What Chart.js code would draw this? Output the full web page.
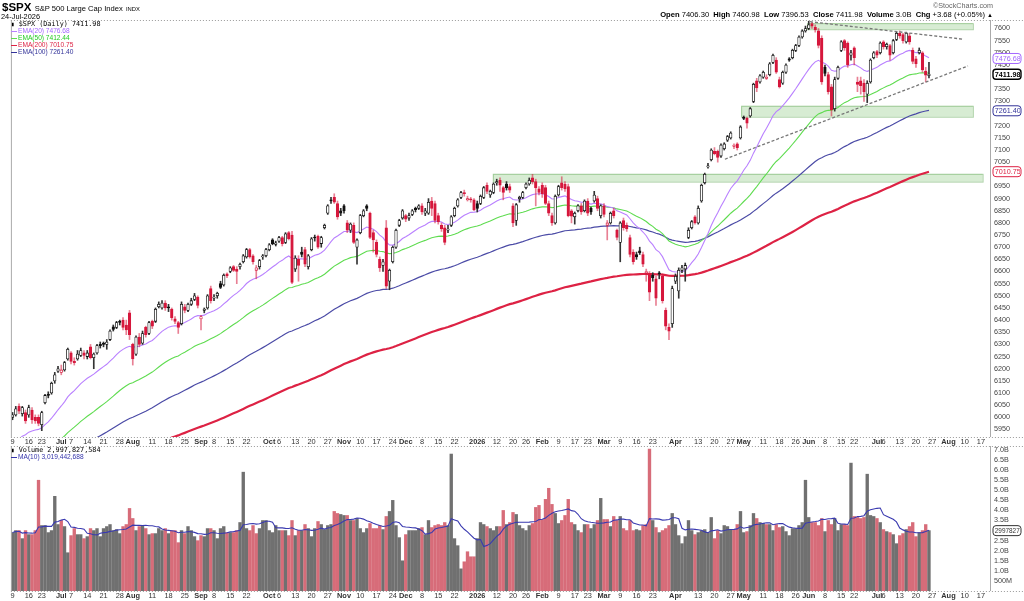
<!DOCTYPE html>
<html>
<head>
<meta charset="utf-8">
<script src="https://cdn.jsdelivr.net/npm/chart.js"></script>
<style>
body{margin:0;background:#fff;width:1024px;height:601px;overflow:hidden;position:relative;font-family:"Liberation Sans",Arial,sans-serif;color:#000}
canvas{position:absolute;left:0}
#price{top:0}
#vol{top:446px}
.t{position:absolute;white-space:nowrap;line-height:1}
.mono{font-family:"DejaVu Sans Mono",monospace}
.lg{font-size:6.6px;height:7px;line-height:7px}
.lg i{display:inline-block;width:6px;height:1.5px;vertical-align:middle;margin-right:1px}
</style>
</head>
<body>
<canvas id="price" width="1024" height="447"></canvas>
<canvas id="vol" width="1024" height="155"></canvas>

<div class="t" style="left:2px;top:2px;font-size:11.5px;height:11px;line-height:11px"><b>$SPX</b> <span style="font-size:7.6px">S&amp;P 500 Large Cap Index</span> <span style="font-size:5.8px">INDX</span></div>
<div class="t" style="left:1px;top:13px;font-size:7.4px;height:7px;line-height:7px">24-Jul-2026</div>
<div class="t" style="right:31px;top:2px;font-size:7.2px;color:#666">&copy;StockCharts.com</div>
<div class="t" style="right:31px;top:11px;font-size:7.6px"><b>Open</b> 7406.30 &nbsp;<b>High</b> 7460.98 &nbsp;<b>Low</b> 7396.53 &nbsp;<b>Close</b> 7411.98 &nbsp;<b>Volume</b> 3.0B &nbsp;<b>Chg</b> +3.68 (+0.05%) <span style="font-size:6px">&#9650;</span></div>

<div class="t" style="left:11px;top:20px">
  <div class="lg mono" style="font-size:6.8px"><b style="font-size:6px">&#9646;</b> $SPX (Daily) 7411.98</div>
  <div class="lg" style="color:#a366ff"><i style="background:#b980ff"></i>EMA(20) 7476.68</div>
  <div class="lg" style="color:#22cc22"><i style="background:#5fdc50"></i>EMA(50) 7412.44</div>
  <div class="lg" style="color:#dd2244"><i style="background:#dd2244"></i>EMA(200) 7010.75</div>
  <div class="lg" style="color:#333399"><i style="background:#333399"></i>EMA(100) 7261.40</div>
</div>
<div class="t" style="left:11px;top:446px">
  <div class="lg mono" style="font-size:6.8px"><b style="font-size:6px">&#9646;</b> Volume 2,997,827,584</div>
  <div class="lg" style="color:#3333aa"><i style="background:#3333aa"></i>MA(10) 3,019,442,688</div>
</div>

<script>
// ---- calendar ----
const firstDate = '2025-06-09';
const slotCount = 302;   // 283 trading days + empty space to the right
const holidays = ['2025-06-19','2025-07-04','2025-09-01','2025-11-27','2025-12-25',
  '2026-01-01','2026-01-19','2026-02-16','2026-04-03','2026-05-25','2026-06-19','2026-07-03'];

const tickDates = ['2025-06-09','2025-06-16','2025-06-23','2025-07-01','2025-07-07','2025-07-14','2025-07-21','2025-07-28',
  '2025-08-01','2025-08-11','2025-08-18','2025-08-25','2025-09-02','2025-09-08','2025-09-15','2025-09-22',
  '2025-10-01','2025-10-06','2025-10-13','2025-10-20','2025-10-27','2025-11-03','2025-11-10','2025-11-17','2025-11-24',
  '2025-12-01','2025-12-08','2025-12-15','2025-12-22','2026-01-02','2026-01-12','2026-01-20','2026-01-26',
  '2026-02-02','2026-02-09','2026-02-17','2026-02-23','2026-03-02','2026-03-09','2026-03-16','2026-03-23',
  '2026-04-01','2026-04-13','2026-04-20','2026-04-27','2026-05-01','2026-05-11','2026-05-18','2026-05-26',
  '2026-06-01','2026-06-08','2026-06-15','2026-06-22','2026-07-01','2026-07-06','2026-07-13','2026-07-20','2026-07-27',
  '2026-08-03','2026-08-10','2026-08-17'];
const tickText = ['9','16','23','Jul','7','14','21','28',
  'Aug','11','18','25','Sep','8','15','22',
  'Oct','6','13','20','27','Nov','10','17','24',
  'Dec','8','15','22','2026','12','20','26',
  'Feb','9','17','23','Mar','9','16','23',
  'Apr','13','20','27','May','11','18','26',
  'Jun','8','15','22','Jul','6','13','20','27',
  'Aug','10','17'];

// ---- daily prices ----
const opens = [
6000,6010,6045,6015,6020,6010,6030,6000,6000,5970, 6060,6095,6100,6150,6190,6185,6195,6240,6265,6230,
6240,6255,6265,6250,6290,6245,6265,6300,6305,6300, 6320,6372,6370,6395,6400,6380,6430,6300,6260,6330,
6305,6370,6345,6395,6395,6455,6450,6470,6455,6445, 6405,6390,6385,6455,6440,6465,6485,6495,6405,6440,
6450,6530,6490,6500,6550,6545,6590,6600,6620,6610, 6620,6640,6660,6690,6665,6605,6620,6660,6665,6690,
6730,6712,6725,6740,6720,6760,6750,6610,6650,6680, 6690,6620,6690,6740,6745,6715,6780,6840,6895,6905,
6880,6850,6870,6800,6770,6790,6700,6760,6830,6870, 6840,6760,6720,6650,6625,6780,6560,6640,6700,6790,
6820,6830,6820,6835,6860,6860,6870,6840,6840,6890, 6880,6830,6790,6780,6770,6790,6830,6870,6905,6925,
6895,6895,6895,6880,6880,6905,6955,6915,6925,6965, 6975,6945,6960,6950,6870,6810,6900,6905,6945,6960,
6985,6970,6940,6955,6945,6880,6830,6800,6915,6965, 6960,6950,6850,6825,6850,6870,6850,6890,6860,6890,
6900,6830,6870,6790,6800,6850,6770,6720,6810,6790, 6740,6680,6670,6685,6670,6595,6590,6585,6570,6590,
6580,6440,6370,6385,6560,6520,6605,6610,6740,6780, 6825,6800,6890,6965,7030,7060,7095,7095,7075,7105,
7140,7150,7115,7125,7150,7235,7230,7240,7300,7385, 7380,7400,7395,7410,7460,7470,7390,7375,7420,7475,
7480,7510,7530,7565,7590,7600,7620,7605,7590,7560, 7440,7410,7360,7270,7395,7510,7550,7540,7490,7520,
7380,7385,7375,7330,7380,7480,7505,7500,7545,7525, 7530,7500,7555,7580,7575,7545,7570,7510,7475,7500,
7500,7425,7406.30];
const highs = [
6020,6045,6055,6045,6030,6050,6040,6010,6010,6025, 6095,6105,6145,6185,6210,6215,6230,6285,6270,6245,
6275,6285,6275,6275,6300,6265,6300,6310,6310,6320, 6360,6380,6395,6400,6410,6400,6440,6305,6335,6345,
6355,6375,6395,6400,6450,6475,6480,6480,6465,6450, 6415,6395,6475,6465,6470,6490,6510,6500,6420,6450,
6505,6540,6505,6515,6560,6590,6595,6620,6625,6620, 6635,6670,6695,6695,6670,6625,6650,6670,6695,6715,
6735,6725,6745,6745,6760,6765,6765,6665,6665,6700, 6700,6670,6740,6750,6750,6745,6795,6875,6905,6920,
6890,6860,6875,6810,6800,6800,6735,6835,6855,6875, 6845,6770,6730,6660,6650,6810,6610,6705,6775,6815,
6855,6835,6840,6855,6865,6875,6880,6860,6900,6905, 6890,6840,6800,6790,6790,6830,6865,6900,6930,6935,
6910,6905,6900,6890,6915,6950,6965,6935,6965,6980, 6985,6950,6970,6960,6880,6880,6910,6930,6965,6985,
7000,6980,6950,6965,6955,6890,6840,6915,6955,6990, 6970,6960,6855,6845,6875,6880,6895,6900,6865,6930,
6910,6875,6880,6810,6845,6860,6775,6805,6820,6800, 6750,6690,6680,6700,6680,6610,6600,6595,6580,6600,
6590,6450,6385,6540,6590,6615,6625,6635,6780,6810, 6830,6870,6960,7005,7045,7105,7110,7100,7125,7130,
7160,7175,7125,7130,7200,7240,7235,7275,7375,7395, 7410,7425,7410,7460,7495,7480,7400,7425,7455,7480,
7515,7535,7570,7595,7610,7630,7625,7615,7600,7570, 7450,7420,7370,7400,7445,7550,7555,7545,7510,7525,
7400,7400,7390,7385,7475,7505,7510,7545,7550,7540, 7535,7555,7585,7590,7580,7585,7580,7520,7485,7520,
7505,7440,7460.98];
const lows = [
5990,6005,6015,6005,5975,6000,5975,5975,5965,5945, 6055,6080,6095,6140,6185,6175,6190,6235,6220,6215,
6235,6250,6240,6240,6240,6200,6260,6285,6290,6280, 6315,6355,6365,6380,6360,6340,6320,6215,6255,6290,
6300,6330,6340,6365,6390,6450,6445,6440,6435,6400, 6385,6345,6380,6430,6435,6460,6480,6450,6360,6430,
6445,6470,6480,6490,6530,6540,6575,6595,6600,6550, 6610,6635,6655,6655,6630,6570,6610,6650,6660,6685,
6710,6705,6720,6705,6715,6730,6550,6600,6560,6660, 6620,6610,6685,6725,6695,6700,6775,6835,6880,6880,
6815,6830,6840,6760,6760,6715,6630,6755,6825,6850, 6735,6680,6660,6600,6600,6530,6525,6635,6695,6785,
6815,6805,6810,6830,6845,6855,6835,6830,6835,6830, 6800,6795,6765,6710,6760,6785,6825,6865,6900,6910,
6890,6885,6850,6845,6875,6900,6920,6905,6920,6955, 6930,6895,6935,6925,6785,6790,6885,6900,6940,6955,
6960,6870,6915,6905,6875,6830,6790,6795,6910,6935, 6930,6825,6800,6795,6845,6835,6845,6830,6835,6885,
6850,6820,6825,6730,6795,6820,6730,6640,6770,6765, 6660,6630,6650,6670,6620,6560,6480,6560,6460,6570,
6470,6360,6320,6370,6550,6490,6595,6560,6735,6775, 6795,6795,6885,6960,7025,7055,7080,7050,7070,7100,
7135,7145,7105,7100,7145,7225,7190,7235,7295,7340, 7375,7395,7390,7405,7455,7415,7355,7370,7415,7465,
7475,7505,7525,7560,7585,7595,7600,7585,7520,7370, 7405,7330,7240,7260,7390,7505,7510,7440,7470,7450,
7340,7330,7300,7295,7375,7475,7480,7495,7515,7515, 7470,7495,7550,7560,7540,7540,7535,7455,7440,7495,
7420,7380,7396.53];
const closes = [
6010,6035,6025,6040,5985,6040,5990,5985,5975,6020, 6090,6090,6140,6175,6200,6195,6225,6280,6230,6225,
6260,6275,6255,6265,6245,6260,6295,6295,6300,6310, 6355,6362,6390,6390,6370,6360,6340,6240,6330,6300,
6345,6340,6390,6375,6445,6465,6470,6450,6450,6410, 6395,6370,6465,6440,6465,6480,6500,6460,6415,6445,
6500,6480,6495,6510,6535,6585,6582,6615,6605,6600, 6630,6665,6690,6660,6640,6615,6645,6665,6690,6710,
6715,6718,6740,6715,6755,6735,6555,6655,6625,6670, 6630,6665,6735,6738,6700,6740,6790,6870,6890,6885,
6825,6840,6850,6770,6795,6720,6730,6830,6850,6860, 6740,6730,6670,6615,6640,6540,6605,6700,6770,6810,
6850,6815,6830,6850,6855,6870,6845,6850,6885,6860, 6810,6805,6775,6720,6775,6825,6860,6895,6925,6920,
6900,6895,6855,6860,6910,6945,6930,6930,6960,6970, 6955,6925,6945,6935,6800,6875,6905,6925,6960,6975,
6970,6945,6925,6920,6880,6840,6800,6910,6950,6945, 6940,6830,6828,6840,6870,6845,6890,6840,6845,6915,
6860,6870,6835,6800,6840,6830,6740,6800,6780,6775, 6670,6640,6660,6678,6630,6600,6515,6575,6490,6590,
6480,6375,6355,6530,6580,6605,6615,6625,6770,6805, 6800,6860,6955,7000,7035,7100,7085,7070,7120,7125,
7155,7170,7120,7110,7195,7230,7210,7270,7370,7355, 7405,7420,7400,7455,7490,7420,7360,7420,7450,7470,
7510,7530,7565,7590,7600,7615,7610,7595,7530,7380, 7415,7340,7265,7390,7440,7545,7520,7450,7500,7480,
7370,7365,7340,7375,7470,7500,7490,7540,7525,7535, 7490,7550,7580,7570,7550,7580,7545,7465,7455,7510,
7430,7408,7411.98];
// volume in billions of shares
const volumes = [
2.9,3.0,3.0,2.6,3.0,2.8,2.8,3.0,5.5,3.25, 3.25,2.9,3.0,4.7,3.3,3.5,3.2,1.9,2.75,3.1,
2.8,2.8,2.6,2.7,3.1,3.0,3.1,2.7,3.1,3.2, 3.3,3.0,3.05,2.85,3.2,3.3,4.1,3.6,3.0,3.2,
3.25,3.1,2.8,2.85,2.85,3.1,3.0,3.1,2.85,3.0, 3.0,2.4,3.0,2.85,3.2,3.0,2.7,2.5,2.75,2.7,
3.1,3.1,3.0,2.6,3.1,3.2,2.9,2.9,2.9,3.0, 3.4,5.9,3.1,3.0,3.25,2.85,3.1,3.5,3.5,3.0,
2.9,3.25,3.0,3.0,3.0,2.75,3.5,2.75,3.0,3.0, 3.3,3.1,2.7,3.1,3.45,3.3,3.05,3.25,3.3,3.95,
3.85,3.8,3.75,3.75,3.5,3.5,3.6,3.1,2.9,3.1, 3.35,3.1,3.1,3.25,3.05,3.7,3.95,4.5,3.25,2.65,
1.5,2.8,3.0,3.0,3.0,3.1,3.15,2.8,3.5,3.15, 3.25,3.3,3.25,3.4,3.25,6.8,2.6,2.25,1.1,1.45,
1.95,1.7,1.7,2.6,3.4,3.3,3.2,3.1,3.0,3.2, 3.2,4.0,3.3,3.4,3.9,3.8,3.25,3.1,3.0,3.25,
3.35,4.15,4.25,3.55,4.55,5.1,4.3,3.85,3.35,3.5, 3.75,4.55,3.4,3.3,3.0,2.9,3.3,3.3,3.1,3.3,
3.5,4.6,3.55,3.55,3.2,3.7,3.5,3.7,3.1,3.0, 3.5,3.0,3.05,3.0,3.25,3.3,7.05,3.5,3.15,2.9,
3.0,3.1,3.25,3.85,3.3,2.75,2.35,2.7,3.5,3.0, 2.8,2.9,3.0,3.05,2.9,3.65,2.6,3.0,2.85,3.25,
3.2,3.05,3.05,3.3,3.95,2.9,2.95,3.25,3.85,3.6, 3.4,3.35,3.3,3.3,3.0,3.3,3.15,3.2,2.95,2.75,
3.1,3.1,3.25,3.4,5.5,3.65,3.4,3.4,3.25,3.6, 2.95,3.5,3.3,3.6,3.0,3.3,3.3,3.25,6.35,3.7,
3.65,3.6,3.65,5.8,3.75,3.7,3.6,3.4,3.05,2.95, 2.9,2.8,2.35,2.75,2.85,3.05,3.2,3.4,2.7,2.9,
3.0,3.3,2.998];

const ema20Start = 5870;
const ema50Start = 5765;
const ema100Start = 5745;
const ema200Start = 5690;
// last values shown in the legend / axis tags
const lastEma20 = 7476.68, lastEma50 = 7412.44, lastEma100 = 7261.40, lastEma200 = 7010.75, lastClose = 7411.98;
const lastVolume = 2997827584;

// support zones and trend lines: [fromIndex, toIndex, lowPrice, highPrice] / [i0, p0, i1, p1]
const zoneFrom = [244.5, 224.2, 147.8];
const zoneTo   = [295.5, 295.5, 298.5];
const zoneLow  = [7597, 7237, 6970];
const zoneHigh = [7622, 7282, 7002];
const trendFrom = [[245.4, 7628], [219.2, 7062]];
const trendTo   = [[292.5, 7556], [294.0, 7446]];

// ---- build ----
const dates = [];
(function () {
  const d = new Date(firstDate + 'T00:00:00Z');
  while (dates.length < slotCount) {
    const s = d.toISOString().slice(0, 10);
    const wd = d.getUTCDay();
    if (wd !== 0 && wd !== 6 && !holidays.includes(s)) dates.push(s);
    d.setUTCDate(d.getUTCDate() + 1);
  }
})();
const tickIdx = tickDates.map(d => dates.indexOf(d));
const tickLabel = {};
tickIdx.forEach((v, k) => tickLabel[v] = tickText[k]);
const isBold = t => /^[A-Za-z]/.test(t) || t === '2026';

const RED = '#d6173c';
const n = closes.length;
const edgeCol = [], fillCol = [], wickCol = [], volCol = [];
for (let i = 0; i < n; i++) {
  const prev = i ? closes[i - 1] : opens[i];
  const down = closes[i] < prev;
  edgeCol.push(down ? RED : '#111');
  wickCol.push(down ? 'rgba(214,23,60,0.55)' : '#333');
  fillCol.push(closes[i] > opens[i] ? '#fff' : (down ? RED : '#111'));
  volCol.push(down ? 'rgba(208,82,98,0.85)' : 'rgba(100,100,100,0.92)');
}

function ema(src, period, start) {
  const k = 2 / (period + 1);
  let e = start;
  return src.map(v => (e = e + k * (v - e)));
}
const ema20 = ema(closes, 20, ema20Start);
const ema50 = ema(closes, 50, ema50Start);
const ema100 = ema(closes, 100, ema100Start);
const ema200 = ema(closes, 200, ema200Start);
const volMA = volumes.map((v, i) => {
  const s = volumes.slice(Math.max(0, i - 9), i + 1);
  return s.reduce((a, b) => a + b, 0) / s.length;
});
const pts = arr => arr.map((v, i) => ({x: i, y: v}));

const axisW = 34;
const xAxis = {
  type: 'linear', min: -0.5, max: 300.78, offset: false,
  grid: {display: false, drawTicks: false}, border: {display: false},
  afterBuildTicks: s => { s.ticks = tickIdx.map(v => ({value: v})); },
  afterFit: s => { s.height = 10; s.paddingLeft = 0; s.paddingRight = 0; },
  ticks: {
    autoSkip: false, maxRotation: 0, padding: 1, color: '#333',
    font: c => ({family: 'Liberation Sans', size: 7.4, weight: isBold(tickLabel[c.tick && c.tick.value] || '') ? 'bold' : 'normal'}),
    callback: v => tickLabel[v] || ''
  }
};
const yFit = s => { s.width = axisW; s.paddingTop = 0; s.paddingBottom = 0; };

// frame + dotted panel edges
const framePlugin = {
  id: 'frame',
  afterDraw(chart) {
    const {ctx, chartArea: a} = chart;
    ctx.save();
    ctx.strokeStyle = '#aaa'; ctx.lineWidth = 1;
    ctx.beginPath();
    ctx.moveTo(a.left + 0.5, a.top); ctx.lineTo(a.left + 0.5, a.bottom);
    ctx.moveTo(a.right + 0.5, a.top); ctx.lineTo(a.right + 0.5, a.bottom);
    ctx.stroke();
    ctx.setLineDash([1, 2]); ctx.strokeStyle = '#999';
    ctx.beginPath();
    ctx.moveTo(a.left, a.top + 0.5); ctx.lineTo(chart.width, a.top + 0.5);
    ctx.moveTo(a.left, a.bottom + 0.5); ctx.lineTo(chart.width, a.bottom + 0.5);
    ctx.stroke();
    ctx.restore();
  }
};

function tag(ctx, x, y, text, color, bold, size) {
  ctx.save();
  ctx.font = (bold ? 'bold ' : '') + (size || 7.2) + 'px "Liberation Sans"';
  const w = 28, h = 10;
  ctx.fillStyle = '#fff';
  ctx.strokeStyle = color; ctx.lineWidth = bold ? 1.4 : 1;
  ctx.beginPath();
  ctx.roundRect(x, y - h / 2, w, h, 3);
  ctx.fill(); ctx.stroke();
  ctx.beginPath(); ctx.rect(x + 1, y - h / 2, w - 2, h); ctx.clip();
  ctx.fillStyle = bold ? '#000' : color;
  ctx.textBaseline = 'middle';
  ctx.fillText(text, x + 1.8, y + 0.5);
  ctx.restore();
}

const pricePlugin = {
  id: 'priceExtras',
  beforeDatasetsDraw(chart) {
    const {ctx, scales: {x, y}} = chart;
    ctx.save();
    for (let k = 0; k < zoneFrom.length; k++) {
      const x0 = x.getPixelForValue(zoneFrom[k]), x1 = x.getPixelForValue(zoneTo[k]);
      const y0 = y.getPixelForValue(zoneHigh[k]), y1 = y.getPixelForValue(zoneLow[k]);
      ctx.fillStyle = 'rgba(150,205,140,0.38)';
      ctx.strokeStyle = 'rgba(120,180,110,0.6)';
      ctx.lineWidth = 1;
      ctx.fillRect(x0, y0, x1 - x0, y1 - y0);
      ctx.strokeRect(x0 + 0.5, y0 + 0.5, x1 - x0, y1 - y0);
    }
    ctx.restore();
  },
  afterDatasetsDraw(chart) {
    const {ctx, scales: {x, y}} = chart;
    ctx.save();
    ctx.strokeStyle = '#777'; ctx.lineWidth = 1.3; ctx.setLineDash([3, 2]);
    for (let k = 0; k < trendFrom.length; k++) {
      ctx.beginPath();
      ctx.moveTo(x.getPixelForValue(trendFrom[k][0]), y.getPixelForValue(trendFrom[k][1]));
      ctx.lineTo(x.getPixelForValue(trendTo[k][0]), y.getPixelForValue(trendTo[k][1]));
      ctx.stroke();
    }
    ctx.restore();
  },
  afterDraw(chart) {
    const {ctx, chartArea: a, scales: {y}} = chart;
    const tx = a.right + 3;
    tag(ctx, tx, y.getPixelForValue(lastEma200), lastEma200.toFixed(2), '#dd2244');
    tag(ctx, tx, y.getPixelForValue(lastEma100), lastEma100.toFixed(2), '#333399');
    tag(ctx, tx, y.getPixelForValue(lastEma20), lastEma20.toFixed(2), '#a366ff');
    tag(ctx, tx, y.getPixelForValue(lastClose), lastClose.toFixed(2), '#000', true);
  }
};

new Chart(document.getElementById('price'), {
  data: {
    datasets: [
      {type: 'bar', data: opens.map((o, i) => ({x: i, y: [Math.min(o, closes[i]), Math.max(o, closes[i])]})),
       backgroundColor: fillCol, borderColor: edgeCol, borderWidth: 0.8, borderSkipped: false,
       barThickness: 2.6, minBarLength: 1, grouped: false, order: 0},
      {type: 'bar', data: lows.map((l, i) => ({x: i, y: [l, highs[i]]})),
       backgroundColor: wickCol, barThickness: 1, grouped: false, order: 1},
      {type: 'line', data: pts(ema20), borderColor: '#b980ff', borderWidth: 1.1, pointRadius: 0, order: 2},
      {type: 'line', data: pts(ema50), borderColor: '#5fdc50', borderWidth: 1.1, pointRadius: 0, order: 3},
      {type: 'line', data: pts(ema100), borderColor: '#4b4ba6', borderWidth: 1.2, pointRadius: 0, order: 4},
      {type: 'line', data: pts(ema200), borderColor: '#dd2244', borderWidth: 2.2, pointRadius: 0, order: 5}
    ]
  },
  options: {
    responsive: false, animation: false, devicePixelRatio: 1,
    layout: {padding: {left: 10.9, right: 0, top: 20, bottom: 0}},
    plugins: {legend: {display: false}, tooltip: {enabled: false}},
    scales: {
      x: xAxis,
      y: {
        position: 'right', min: 5919, max: 7635,
        grid: {display: false, drawTicks: false}, border: {display: false},
        afterBuildTicks: s => { const t = []; for (let v = 5950; v <= 7600; v += 50) t.push({value: v}); s.ticks = t; },
        afterFit: yFit,
        ticks: {autoSkip: false, padding: 4, color: '#444', font: {family: 'Liberation Sans', size: 7.2}, callback: v => String(v)}
      }
    }
  },
  plugins: [pricePlugin, framePlugin]
});

const volPlugin = {
  id: 'volTag',
  afterDraw(chart) {
    const {ctx, chartArea: a, scales: {y}} = chart;
    tag(ctx, a.right + 3, y.getPixelForValue(lastVolume / 1e9), String(lastVolume), '#333', false, 6.4);
  }
};

new Chart(document.getElementById('vol'), {
  data: {
    datasets: [
      {type: 'line', data: pts(volMA), borderColor: '#3a3ab0', borderWidth: 1.1, pointRadius: 0, order: 0},
      {type: 'bar', data: pts(volumes), backgroundColor: volCol, barThickness: 2.7, grouped: false, order: 1}
    ]
  },
  options: {
    responsive: false, animation: false, devicePixelRatio: 1,
    layout: {padding: {left: 10.9, right: 0, top: 0, bottom: 0}},
    plugins: {legend: {display: false}, tooltip: {enabled: false}},
    scales: {
      x: xAxis,
      y: {
        position: 'right', min: 0, max: 7.2,
        grid: {display: false, drawTicks: false}, border: {display: false},
        afterBuildTicks: s => { const t = []; for (let v = 0.5; v <= 7.01; v += 0.5) t.push({value: Math.round(v * 10) / 10}); s.ticks = t; },
        afterFit: yFit,
        ticks: {autoSkip: false, padding: 4, color: '#444', font: {family: 'Liberation Sans', size: 7.2},
                callback: v => v < 1 ? '500M' : v.toFixed(1) + 'B'}
      }
    }
  },
  plugins: [volPlugin, framePlugin]
});
</script>
</body>
</html>
